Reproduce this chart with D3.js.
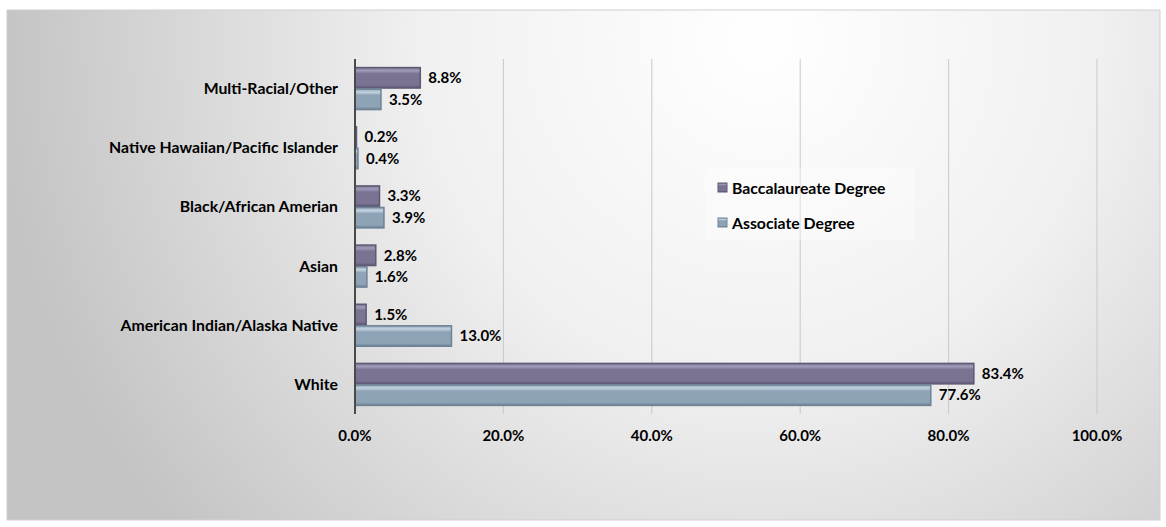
<!DOCTYPE html>
<html>
<head>
<meta charset="utf-8">
<script src="https://cdn.jsdelivr.net/npm/d3@7"></script>
<style>
  html, body { margin: 0; padding: 0; background: #fff; }
  svg { display: block; font-family: Lato, "Open Sans", sans-serif; }
</style>
</head>
<body>
<div id="chart"></div>
<script>
// Categories, top to bottom
const categories = [
  'Multi-Racial/Other',
  'Native Hawaiian/Pacific Islander',
  'Black/African Amerian',
  'Asian',
  'American Indian/Alaska Native',
  'White'
];
const seriesNames = ['Baccalaureate Degree', 'Associate Degree'];
const baccalaureate = [8.8, 0.2, 3.3, 2.8, 1.5, 83.4];
const associate = [3.5, 0.4, 3.9, 1.6, 13.0, 77.6];
const xTicks = [0, 20, 40, 60, 80, 100];

const width = 1166, height = 527;
const margin = { top: 59, left: 355, right: 69, bottom: 113 };

const svg = d3.select('#chart').append('svg')
  .attr('width', width)
  .attr('height', height);

const defs = svg.append('defs');

// background panel gradient
const bg = defs.append('radialGradient')
  .attr('id', 'bg')
  .attr('gradientUnits', 'userSpaceOnUse')
  .attr('cx', 760).attr('cy', 40).attr('r', 760);
bg.append('stop').attr('offset', '0%').attr('stop-color', '#ffffff');
bg.append('stop').attr('offset', '45%').attr('stop-color', '#f0f0f0');
bg.append('stop').attr('offset', '100%').attr('stop-color', '#c4c4c4');

// bar bevel gradients
const barColors = [
  { id: 'g0', light: '#a29bb8', mid: '#7a7392', dark: '#5e5875' },
  { id: 'g1', light: '#c3d3e1', mid: '#8fa3b6', dark: '#6e8396' }
];
barColors.forEach(c => {
  const g = defs.append('linearGradient')
    .attr('id', c.id)
    .attr('x1', 0).attr('y1', 0).attr('x2', 0).attr('y2', 1);
  g.append('stop').attr('offset', '0%').attr('stop-color', c.mid);
  g.append('stop').attr('offset', '15%').attr('stop-color', c.light);
  g.append('stop').attr('offset', '30%').attr('stop-color', c.mid);
  g.append('stop').attr('offset', '85%').attr('stop-color', c.mid);
  g.append('stop').attr('offset', '100%').attr('stop-color', c.dark);
});

svg.append('rect')
  .attr('x', 7).attr('y', 10)
  .attr('width', 1153).attr('height', 510)
  .attr('fill', 'url(#bg)')
  .attr('stroke', '#d0d0d0')
  .attr('stroke-width', 1);

const x = d3.scaleLinear()
  .domain([0, 100])
  .range([margin.left, width - margin.right]);

const y = d3.scaleBand()
  .domain(categories)
  .range([margin.top, height - margin.bottom])
  .paddingInner(0.29)
  .paddingOuter(0.145);

const ySub = d3.scaleBand()
  .domain(seriesNames)
  .range([0, y.bandwidth()])
  .paddingInner(0.05);

// gridlines
svg.append('g')
  .selectAll('line')
  .data(xTicks.filter(d => d > 0))
  .enter()
  .append('line')
  .attr('x1', d => x(d)).attr('x2', d => x(d))
  .attr('y1', margin.top).attr('y2', height - margin.bottom)
  .attr('stroke', '#c9c9c9')
  .attr('stroke-width', 1);

// x tick labels
svg.append('g')
  .selectAll('text')
  .data(xTicks)
  .enter()
  .append('text')
  .attr('x', d => x(d))
  .attr('y', 441)
  .attr('text-anchor', 'middle')
  .attr('fill', '#000')
  .style('font-size', '15px')
  .style('font-weight', 'bold')
  .text(d => d3.format('.1f')(d) + '%');

// bars
const rows = categories.map((c, i) => ({
  cat: c,
  vals: [baccalaureate[i], associate[i]]
}));

const group = svg.append('g')
  .selectAll('g')
  .data(rows)
  .enter()
  .append('g')
  .attr('transform', d => `translate(0,${y(d.cat)})`);

const bar = group.selectAll('g')
  .data(d => d.vals.map((v, j) => ({ v, j, s: seriesNames[j] })))
  .enter()
  .append('g');

bar.append('rect')
  .attr('x', x(0))
  .attr('y', d => ySub(d.s))
  .attr('width', d => x(d.v) - x(0))
  .attr('height', ySub.bandwidth())
  .attr('fill', d => `url(#g${d.j})`)
  .attr('stroke', d => barColors[d.j].dark)
  .attr('stroke-width', 1.5);

bar.append('text')
  .attr('x', d => x(d.v) + 8)
  .attr('y', d => ySub(d.s) + ySub.bandwidth() / 2)
  .attr('dy', '0.35em')
  .attr('fill', '#000')
  .style('font-size', '15px')
  .style('font-weight', 'bold')
  .text(d => d3.format('.1f')(d.v) + '%');

// axis line
svg.append('line')
  .attr('x1', x(0)).attr('x2', x(0))
  .attr('y1', margin.top).attr('y2', height - margin.bottom)
  .attr('stroke', '#4a4a4a')
  .attr('stroke-width', 2);

// category labels
svg.append('g')
  .selectAll('text')
  .data(categories)
  .enter()
  .append('text')
  .attr('x', 338)
  .attr('y', d => y(d) + y.bandwidth() / 2)
  .attr('dy', '0.35em')
  .attr('text-anchor', 'end')
  .attr('fill', '#000')
  .style('font-size', '15.8px')
  .style('font-weight', 'bold')
  .text(d => d);

// legend
const legend = svg.append('g')
  .attr('transform', 'translate(705,168)');

legend.append('rect')
  .attr('width', 210)
  .attr('height', 72)
  .attr('fill', '#ffffff')
  .attr('fill-opacity', 0.35);

seriesNames.forEach((name, i) => {
  const g = legend.append('g')
    .attr('transform', `translate(13,${20 + i * 35})`);
  g.append('rect')
    .attr('x', 0).attr('y', -5)
    .attr('width', 9).attr('height', 9)
    .attr('fill', `url(#g${i})`)
    .attr('stroke', barColors[i].dark)
    .attr('stroke-width', 1);
  g.append('text')
    .attr('x', 14)
    .attr('y', 0)
    .attr('dy', '0.35em')
    .attr('fill', '#000')
    .style('font-size', '15.8px')
    .style('font-weight', 'bold')
    .text(name);
});
</script>
</body>
</html>
